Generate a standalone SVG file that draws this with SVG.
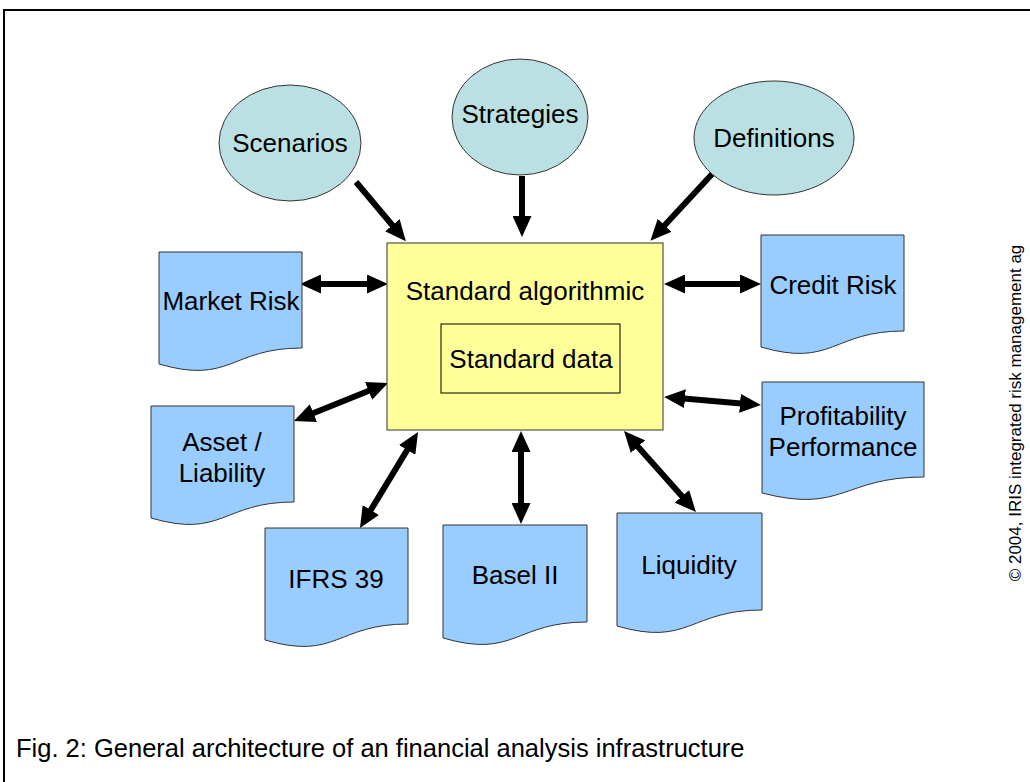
<svg xmlns="http://www.w3.org/2000/svg" width="1030" height="782" viewBox="0 0 1030 782">
  <style>
    text { font-family: "Liberation Sans", Arial, sans-serif; fill: #000; }
    .lbl { font-size: 26px; text-anchor: middle; }
    .oval { fill: #BBE0E3; stroke: #333; stroke-width: 1; }
    .doc { fill: #99CCFF; stroke: #333; stroke-width: 1; }
    .core { fill: #FFFF99; stroke: #333; stroke-width: 1; }
    .inner { fill: none; stroke: #000; stroke-width: 1; }
    .link { stroke: #000; stroke-width: 6; fill: none; }
    .one { marker-end: url(#head); }
    .two { marker-start: url(#head); marker-end: url(#head); }
  </style>
  <defs>
    <marker id="head" viewBox="0 0 21 19" markerWidth="21" markerHeight="19" markerUnits="userSpaceOnUse" refX="1" refY="9.5" orient="auto-start-reverse">
      <path d="M0,0 L21,9.5 L0,19 Z" fill="#000"/>
    </marker>
  </defs>

  <rect width="1030" height="782" fill="#fff"/>
  <!-- outer frame -->
  <path d="M4,782 V10 H1030" fill="none" stroke="#000" stroke-width="2"/>

  <!-- connectors -->
  <g id="connectors">
    <path class="link one" d="M356,182 L393,226"/>
    <path class="link one" d="M522,176 L522,217"/>
    <path class="link one" d="M714,172 L664,226"/>
    <path class="link two" d="M320,284 L368,284"/>
    <path class="link two" d="M684,284 L741,284"/>
    <path class="link two" d="M684,398.6 L741,403.4"/>
    <path class="link two" d="M312.5,413.5 L369.5,390.5"/>
    <path class="link two" d="M370.3,510.9 L407.7,449.1"/>
    <path class="link two" d="M521,451 L521,504"/>
    <path class="link two" d="M637.3,445.9 L682.7,497.1"/>
  </g>

  <!-- inputs -->
  <g id="scenarios">
    <ellipse class="oval" cx="290" cy="143" rx="71" ry="58"/>
    <text class="lbl" x="290" y="152">Scenarios</text>
  </g>
  <g id="strategies">
    <ellipse class="oval" cx="520" cy="117" rx="68" ry="58"/>
    <text class="lbl" x="520" y="123">Strategies</text>
  </g>
  <g id="definitions">
    <ellipse class="oval" cx="774" cy="138" rx="80" ry="57"/>
    <text class="lbl" x="774" y="147">Definitions</text>
  </g>

  <!-- core -->
  <g id="core">
    <rect class="core" x="387" y="243" width="276" height="187"/>
    <text class="lbl" x="525" y="300">Standard algorithmic</text>
    <rect class="inner" x="441" y="324" width="179" height="69"/>
    <text class="lbl" x="531" y="368">Standard data</text>
  </g>

  <!-- report documents -->
  <g id="market-risk">
    <path class="doc" d="M159,252 h143 v96 C230.5,348 230.5,385 159,364 Z"/>
    <text class="lbl" x="231" y="310">Market Risk</text>
  </g>
  <g id="credit-risk">
    <path class="doc" d="M761,235 h143 v96 C832.5,331 832.5,368 761,347 Z"/>
    <text class="lbl" x="833" y="294">Credit Risk</text>
  </g>
  <g id="profitability">
    <path class="doc" d="M762,382 h162 v95 C843,477 843,514 762,493 Z"/>
    <text class="lbl" x="843" y="425">Profitability</text>
    <text class="lbl" x="843" y="456">Performance</text>
  </g>
  <g id="asset-liability">
    <path class="doc" d="M151,406 h143 v96 C222.5,502 222.5,539 151,518 Z"/>
    <text class="lbl" x="222" y="451">Asset /</text>
    <text class="lbl" x="222" y="482">Liability</text>
  </g>
  <g id="ifrs">
    <path class="doc" d="M265,528 h143 v96 C336.5,624 336.5,661 265,640 Z"/>
    <text class="lbl" x="336" y="588">IFRS 39</text>
  </g>
  <g id="basel">
    <path class="doc" d="M443,525 h144 v97 C515,622 515,659 443,638 Z"/>
    <text class="lbl" x="515" y="584">Basel II</text>
  </g>
  <g id="liquidity">
    <path class="doc" d="M617,513 h145 v97 C689.5,610 689.5,647 617,626 Z"/>
    <text class="lbl" x="689" y="574">Liquidity</text>
  </g>

  <!-- copyright -->
  <text x="0" y="0" font-size="17" text-anchor="middle" transform="translate(1021,413) rotate(-90)">© 2004, IRIS integrated risk management ag</text>

  <!-- caption -->
  <text x="16" y="757" font-size="25.5">Fig. 2: General architecture of an financial analysis infrastructure</text>
</svg>
